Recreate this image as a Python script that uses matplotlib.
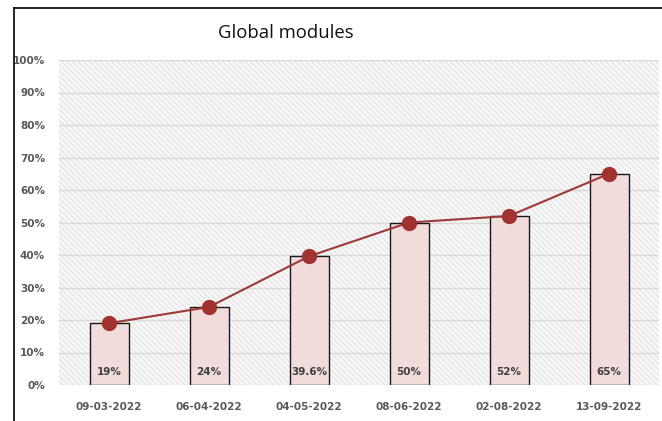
import matplotlib
matplotlib.use("Agg")
import matplotlib.pyplot as plt
from matplotlib.patches import Rectangle
from matplotlib.lines import Line2D

categories = ["09-03-2022", "06-04-2022", "04-05-2022", "08-06-2022", "02-08-2022", "13-09-2022"]
values = [19, 24, 39.6, 50, 52, 65]
bar_labels = ["19%", "24%", "39.6%", "50%", "52%", "65%"]
yticks = [0, 10, 20, 30, 40, 50, 60, 70, 80, 90, 100]
title = "Global modules"

plt.rcParams['hatch.color'] = '#d9d9d9'
plt.rcParams['hatch.linewidth'] = 0.5

fig = plt.figure(figsize=(6.62, 4.21), dpi=100)
ax = fig.add_axes([59/662, 1-385/421, 600/662, 325/421])

# hatched background
bg = Rectangle((0, 0), 1, 1, transform=ax.transAxes, facecolor='#f7f7f7',
               edgecolor='#d9d9d9', hatch='\\\\\\\\\\\\', linewidth=0, zorder=0)
ax.add_patch(bg)

x = list(range(len(categories)))
ax.bar(x, values, width=0.39, color='#f2dcdb', edgecolor='#1a1a1a', linewidth=1.0, zorder=3)
ax.plot(x, values, color='#9b3a38', linewidth=1.5, marker='o', markersize=10,
        markerfacecolor='#a0322f', markeredgecolor='#a0322f', zorder=4)

for xi, lab in zip(x, bar_labels):
    ax.text(xi, 4, lab, ha='center', va='center', fontsize=7.5, fontweight='bold',
            color='#404040', zorder=5)

ax.set_xlim(-0.5, len(categories) - 0.5)
ax.set_ylim(0, 100)
ax.set_yticks(yticks)
ax.set_yticklabels([f"{v}%" for v in yticks])
ax.set_xticks(x)
ax.set_xticklabels(categories)
ax.yaxis.grid(True, color='#d9d9d9', linewidth=1.0, zorder=1)
ax.set_axisbelow(True)
for s in ax.spines.values():
    s.set_visible(False)
ax.tick_params(axis='both', length=0, labelsize=7.5, labelcolor='#595959')
ax.tick_params(axis='x', pad=12)
ax.tick_params(axis='y', pad=10)
for lab in ax.get_xticklabels() + ax.get_yticklabels():
    lab.set_fontweight('bold')

fig.text(286/662, 1-33/421, title, ha='center', va='center', fontsize=13.3,
         family='Open Sans', color='#111111')

# figure frame lines (left and top)
fig.add_artist(Line2D([13.5/662, 13.5/662], [0, 1-8/421], transform=fig.transFigure,
                      color='black', linewidth=1.2))
fig.add_artist(Line2D([13.5/662, 1], [1-8/421, 1-8/421], transform=fig.transFigure,
                      color='black', linewidth=1.2))

fig.savefig("out.png", dpi=100)
